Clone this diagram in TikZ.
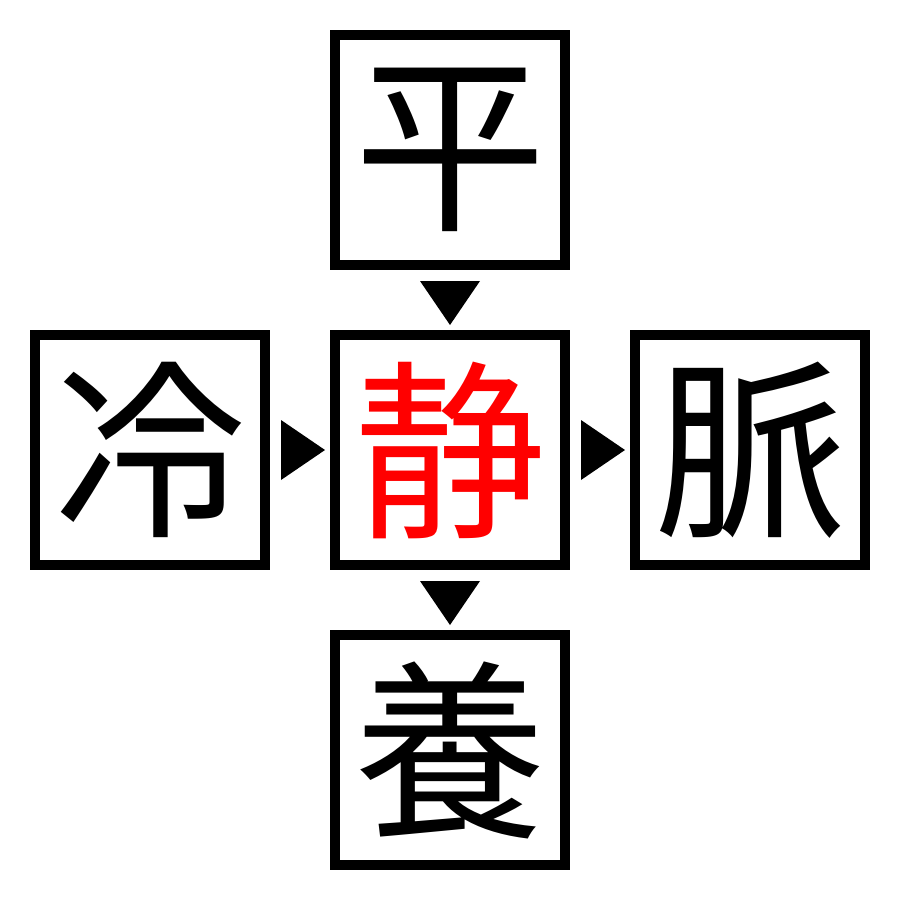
\documentclass[tikz,border=0pt]{standalone}
\usepackage{fontspec}
\newfontfamily\cjk{Noto Sans CJK JP}
\usetikzlibrary{calc}
\begin{document}
\begin{tikzpicture}[x=1pt,y=-1pt,
  kbox/.style={draw=black,line width=10pt,minimum size=230pt,inner sep=0pt,outer sep=0pt,font=\cjk\fontsize{192}{192}\selectfont},
  tri/.style={fill=black,draw=none}]
\useasboundingbox[fill=white] (0,0) rectangle (900,900);
\node[kbox] (top) at (450,150) {平};
\node[kbox] (lft) at (150,450) {冷};
\node[kbox,text=red] (mid) at (450,450) {静};
\node[kbox] (rgt) at (750,450) {脈};
\node[kbox] (bot) at (450,750) {養};
% down triangles
\coordinate (t1) at ($(top.south)!0.5!(mid.north)+(0,3)$);
\fill[tri] ($(t1)+(-30,-22)$) -- ($(t1)+(30,-22)$) -- ($(t1)+(0,22)$) -- cycle;
\coordinate (t2) at ($(mid.south)!0.5!(bot.north)+(0,3)$);
\fill[tri] ($(t2)+(-30,-22)$) -- ($(t2)+(30,-22)$) -- ($(t2)+(0,22)$) -- cycle;
% right triangles
\coordinate (t3) at ($(lft.east)!0.5!(mid.west)+(3,0)$);
\fill[tri] ($(t3)+(-22,-30)$) -- ($(t3)+(-22,30)$) -- ($(t3)+(22,0)$) -- cycle;
\coordinate (t4) at ($(mid.east)!0.5!(rgt.west)+(3,0)$);
\fill[tri] ($(t4)+(-22,-30)$) -- ($(t4)+(-22,30)$) -- ($(t4)+(22,0)$) -- cycle;
\end{tikzpicture}
\end{document}
